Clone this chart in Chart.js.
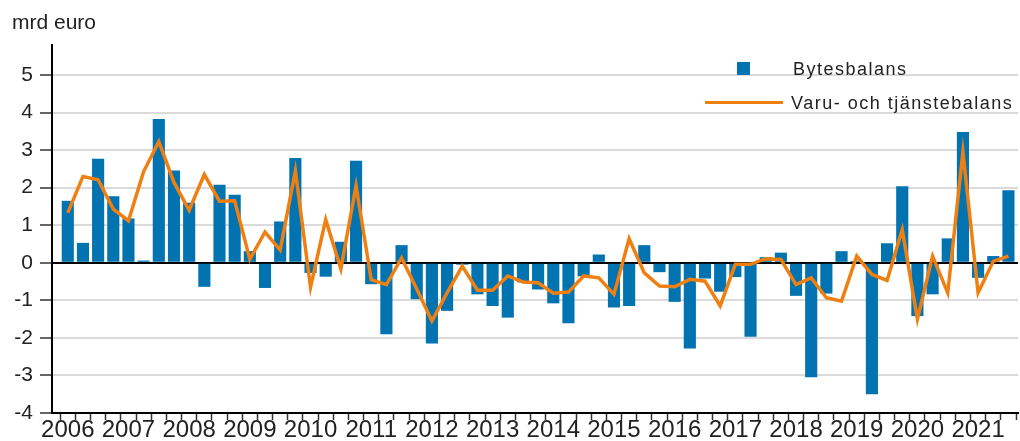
<!DOCTYPE html>
<html>
<head>
<meta charset="utf-8">
<script src="https://cdn.jsdelivr.net/npm/chart.js@4.4.1/dist/chart.umd.min.js"></script>
<style>
    body { margin: 0; background: #fff; }
    #wrap { position: relative; width: 1020px; height: 441px; font-family: 'Liberation Sans', Arial, sans-serif; color: #222; }
    #unit { position: absolute; left: 12px; top: 10px; font-size: 21px; }
    .leg { position: absolute; left: 705px; height: 20px; font-size: 18px; letter-spacing: 1.5px; line-height: 20px; white-space: nowrap; }
    .mark { display: inline-block; width: 78px; height: 20px; position: relative; vertical-align: top; margin-right: 8px; }
    .sq { position: absolute; left: 32px; top: 3px; width: 13px; height: 13px; }
    .ln { position: absolute; left: 0; top: 8px; width: 78px; height: 3px; }
</style>
</head>
<body>
<div id="wrap">
    <canvas id="balansChart" width="1020" height="441"></canvas>
    <div id="unit">mrd euro</div>
    <div class="leg" style="top:59px"><span class="mark"><span class="sq" id="sqBar"></span></span><span style="margin-left:2px">Bytesbalans</span></div>
    <div class="leg" style="top:93px"><span class="mark"><span class="ln" id="lnLine"></span></span>Varu- och tjänstebalans</div>
</div>
<script>
// quarters 2006Q1 - 2021Q3
const categories = [
    '2006Q1','2006Q2','2006Q3','2006Q4','2007Q1','2007Q2','2007Q3','2007Q4',
    '2008Q1','2008Q2','2008Q3','2008Q4','2009Q1','2009Q2','2009Q3','2009Q4',
    '2010Q1','2010Q2','2010Q3','2010Q4','2011Q1','2011Q2','2011Q3','2011Q4',
    '2012Q1','2012Q2','2012Q3','2012Q4','2013Q1','2013Q2','2013Q3','2013Q4',
    '2014Q1','2014Q2','2014Q3','2014Q4','2015Q1','2015Q2','2015Q3','2015Q4',
    '2016Q1','2016Q2','2016Q3','2016Q4','2017Q1','2017Q2','2017Q3','2017Q4',
    '2018Q1','2018Q2','2018Q3','2018Q4','2019Q1','2019Q2','2019Q3','2019Q4',
    '2020Q1','2020Q2','2020Q3','2020Q4','2021Q1','2021Q2','2021Q3'
];

const bytesbalans = [
    1.65, 0.53, 2.77, 1.77,   1.18, 0.06, 3.83, 2.46,
    1.6, -0.64, 2.08, 1.81,   0.31, -0.67, 1.1, 2.79,
    -0.27, -0.37, 0.56, 2.72, -0.57, -1.9, 0.47, -0.97,
    -2.15, -1.28, -0.05, -0.84, -1.15, -1.46, -0.52, -0.71,
    -1.08, -1.61, -0.36, 0.22, -1.19, -1.15, 0.47, -0.25,
    -1.04, -2.28, -0.42, -0.77, -0.38, -1.97, 0.15, 0.27,
    -0.88, -3.05, -0.82, 0.31, 0.05, -3.5, 0.52, 2.04,
    -1.42, -0.84, 0.65, 3.48, -0.4, 0.18, 1.93
];

const varuTjanst = [
    1.33, 2.3, 2.21, 1.43,    1.12, 2.43, 3.23, 2.14,
    1.4, 2.35, 1.64, 1.65,    0.09, 0.82, 0.34, 2.45,
    -0.65, 1.15, -0.16, 2.05, -0.45, -0.58, 0.13, -0.7,
    -1.55, -0.8, -0.09, -0.73, -0.73, -0.35, -0.51, -0.53,
    -0.81, -0.78, -0.35, -0.4, -0.84, 0.64, -0.27, -0.62,
    -0.64, -0.44, -0.49, -1.15, -0.04, -0.04, 0.11, 0.09,
    -0.58, -0.4, -0.93, -1.02, 0.18, -0.31, -0.47, 0.88,
    -1.5, 0.18, -0.8, 2.95, -0.8, 0.04, 0.18
];

const yTicks = [-4, -3, -2, -1, 0, 1, 2, 3, 4, 5];

const barColor = '#0073b0';
const lineColor = '#f07f12';

document.getElementById('sqBar').style.background = barColor;
document.getElementById('lnLine').style.background = lineColor;

const fontFam = "'Liberation Sans', Arial, sans-serif";

const config = {
    type: 'bar',
    data: {
        datasets: [{
            label: 'Varu- och tjänstebalans',
            type: 'line',
            data: varuTjanst.map((v, i) => ({ x: i, y: v })),
            borderColor: lineColor,
            borderWidth: 3.5,
            pointRadius: 0,
            tension: 0,
            order: 1
        }, {
            label: 'Bytesbalans',
            data: bytesbalans.map((v, i) => ({ x: i, y: v })),
            backgroundColor: barColor,
            barPercentage: 0.8,
            categoryPercentage: 1,
            order: 2
        }]
    },
    options: {
        responsive: false,
        animation: false,
        layout: { padding: { top: 45, right: 2, left: 0, bottom: 0 } },
        plugins: {
            legend: { display: false },
            tooltip: { enabled: false }
        },
        scales: {
            x: {
                type: 'linear',
                min: -1.04,
                max: 62.63,
                offset: false,
                afterBuildTicks: (scale) => {
                    scale.ticks = categories.map((c, i) => ({ value: i }));
                },
                afterFit: (scale) => { scale.height = 28; },
                grid: { drawOnChartArea: false, drawTicks: true, tickLength: 7, tickColor: '#333', tickWidth: 1.5 },
                border: { color: '#000', width: 2 },
                ticks: {
                    autoSkip: false,
                    maxRotation: 0,
                    minRotation: 0,
                    padding: -4,
                    color: '#222',
                    font: { family: fontFam, size: 24 },
                    callback: (v) => {
                        const c = categories[v];
                        return c && c.endsWith('Q1') ? c.slice(0, 4) : '';
                    }
                }
            },
            y: {
                min: -4,
                max: 5.8,
                afterBuildTicks: (scale) => {
                    scale.ticks = yTicks.map(v => ({ value: v }));
                },
                afterFit: (scale) => { scale.width = 52; },
                grid: {
                    color: (ctx) => ctx.tick && ctx.tick.value === 0 ? '#000' : '#dadada',
                    lineWidth: 2,
                    tickLength: 12,
                    tickColor: '#333',
                    tickWidth: 1.5
                },
                border: { color: '#000', width: 2 },
                ticks: {
                    padding: 7,
                    color: '#222',
                    font: { family: fontFam, size: 21 }
                }
            }
        }
    }
};

const balansChart = new Chart(document.getElementById('balansChart'), config);
</script>
</body>
</html>
